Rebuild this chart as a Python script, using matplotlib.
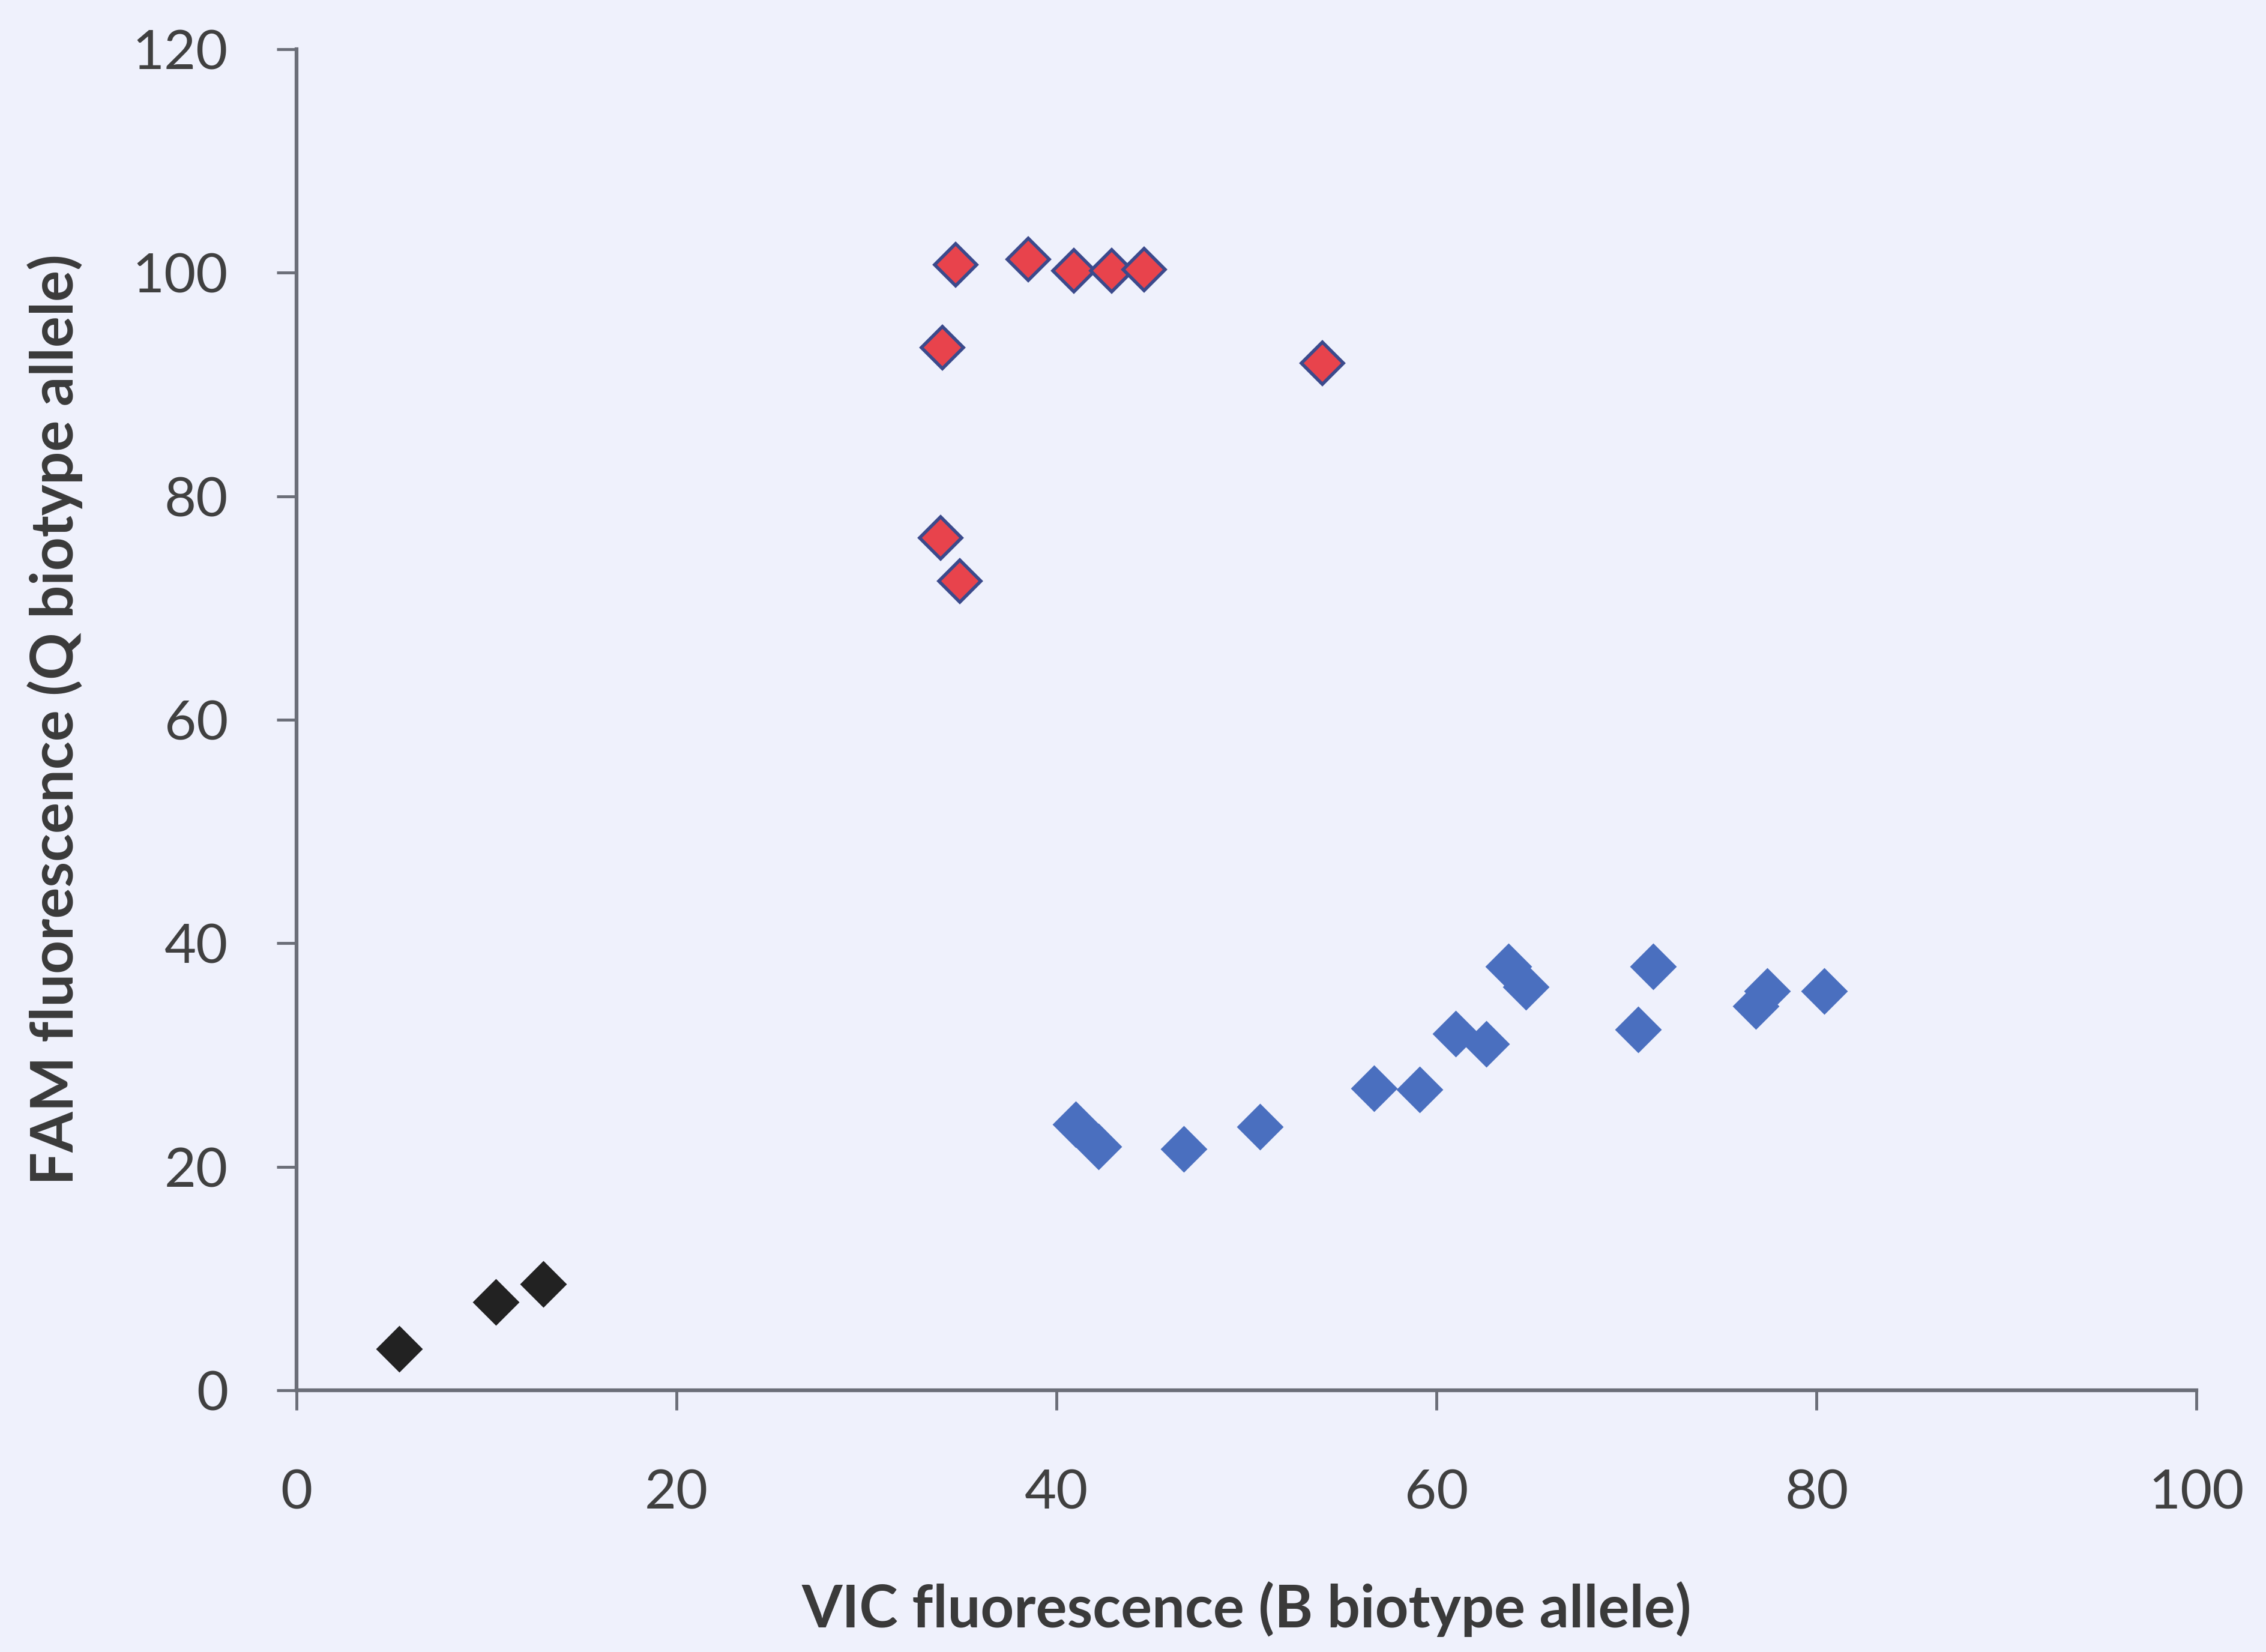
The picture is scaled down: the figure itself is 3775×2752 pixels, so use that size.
import matplotlib
matplotlib.use("Agg")
import matplotlib.pyplot as plt

# data
red_x = [34.7, 38.5, 40.9, 42.9, 44.6, 34.0, 54.0, 33.9, 34.9]
red_y = [100.7, 101.2, 100.2, 100.2, 100.3, 93.3, 91.9, 76.3, 72.4]

blue_x = [41.0, 42.2, 46.7, 50.7, 56.7, 59.1, 61.0, 62.6, 63.8, 64.7, 71.4, 70.6, 77.4, 76.8, 80.4]
blue_y = [23.8, 21.8, 21.6, 23.6, 27.0, 26.9, 31.9, 31.0, 37.9, 36.1, 37.9, 32.3, 35.7, 34.4, 35.7]

black_x = [5.4, 10.5, 13.0]
black_y = [3.7, 7.9, 9.5]

x_ticks = [0, 20, 40, 60, 80, 100]
y_ticks = [0, 20, 40, 60, 80, 100, 120]

plt.rcParams['font.family'] = ['Lato', 'DejaVu Sans']

bg = '#eff1fc'
fig = plt.figure(figsize=(37.75, 27.52), dpi=100, facecolor=bg)
ax = fig.add_axes([0.1308, 0.1584, 0.9694 - 0.1308, 0.9702 - 0.1584])
ax.set_facecolor(bg)

ax.plot(black_x, black_y, 'D', ms=38, color='#222222', mec='#222222', mew=2)
ax.plot(blue_x, blue_y, 'D', ms=38, color='#4a6fbf', mec='#4a6fbf', mew=2)
ax.plot(red_x, red_y, 'D', ms=36, color='#e8434c', mec='#3b4a8c', mew=4)

ax.set_xlim(0, 100)
ax.set_ylim(0, 120)
ax.set_xticks(x_ticks)
ax.set_yticks(y_ticks)

for s in ['top', 'right']:
    ax.spines[s].set_visible(False)
for s in ['left', 'bottom']:
    ax.spines[s].set_color('#6b6e78')
    ax.spines[s].set_linewidth(4.5)

ax.tick_params(axis='both', direction='out', length=24, width=3.5, color='#6b6e78',
               labelsize=66, labelcolor='#404040')
ax.tick_params(axis='y', pad=58)
ax.tick_params(axis='x', pad=70)

ax.set_xlabel('VIC fluorescence (B biotype allele)', fontsize=70, fontweight='bold',
              color='#3a3a3a', va='center')
ax.set_ylabel('FAM fluorescence (Q biotype allele)', fontsize=70, fontweight='bold',
              color='#3a3a3a', va='center')
ax.xaxis.set_label_coords(0.5, -0.163)
ax.yaxis.set_label_coords(-0.127, 0.5)

fig.savefig('out.png', dpi=100, facecolor=bg)
